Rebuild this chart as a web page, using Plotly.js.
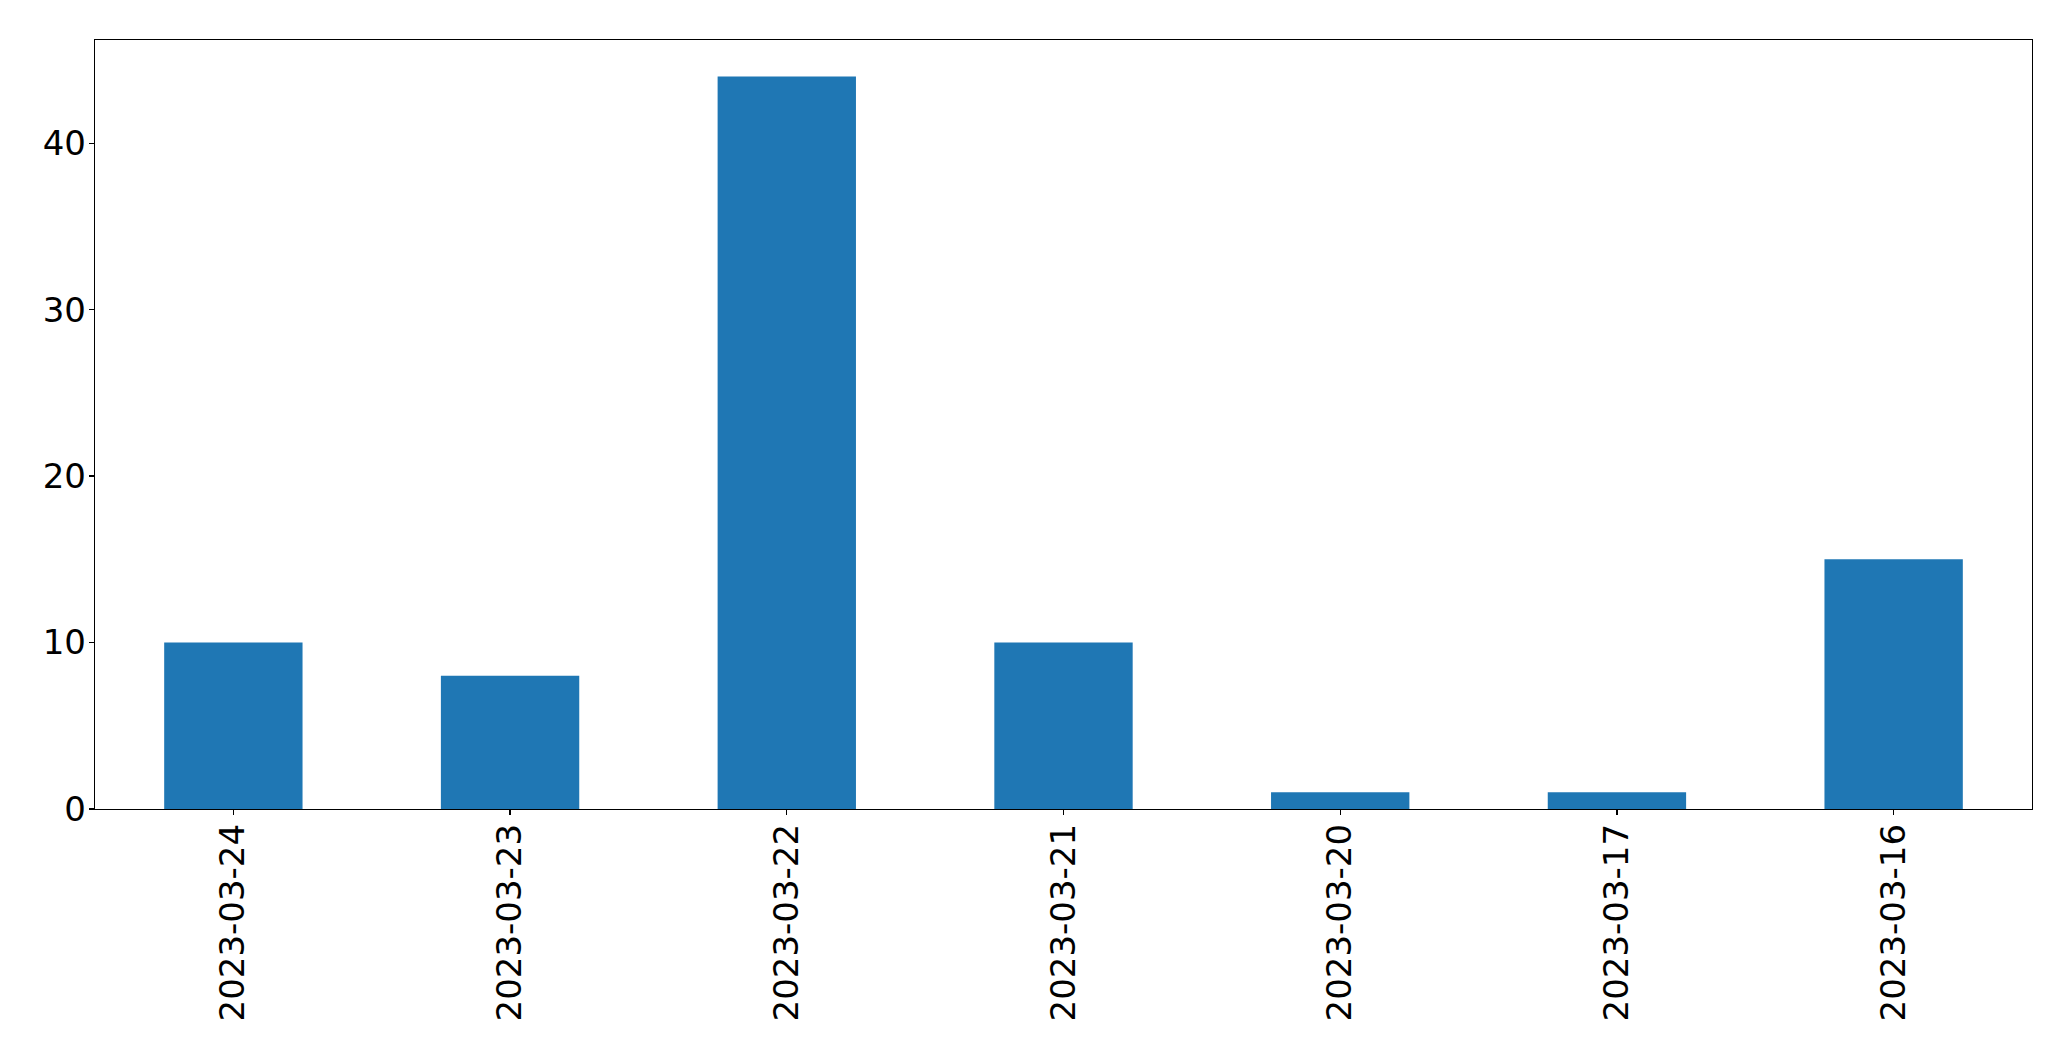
<!DOCTYPE html>
<html>
<head>
<meta charset="utf-8">
<script src="https://cdn.plot.ly/plotly-3.0.1.min.js"></script>
<style>html,body{margin:0;padding:0;background:#fff;}#chart{width:2071px;height:1061px;}</style>
</head>
<body>
<div id="chart"></div>
<script>
const dates = ["2023-03-24","2023-03-23","2023-03-22","2023-03-21","2023-03-20","2023-03-17","2023-03-16"];
const counts = [10, 8, 44, 10, 1, 1, 15];
const yTicks = [0, 10, 20, 30, 40];

const font = {family: "DejaVu Sans", size: 34, color: "#000"};
Plotly.newPlot("chart", [{
  type: "bar",
  x: dates,
  y: counts,
  width: 0.5,
  marker: {color: "#1f77b4", line: {width: 0}},
  hoverinfo: "x+y"
}], {
  width: 2071, height: 1061,
  margin: {l: 94.5, r: 39.3, t: 39.5, b: 252, pad: 0},
  paper_bgcolor: "#fff", plot_bgcolor: "#fff",
  showlegend: false,
  font: font,
  xaxis: {
    type: "category",
    range: [-0.5, dates.length - 0.5],
    tickangle: -90,
    ticks: "outside", ticklen: 5, tickwidth: 1.3, tickcolor: "#000",
    showline: true, linecolor: "#000", linewidth: 1.3, mirror: true,
    showgrid: false, zeroline: false,
    tickfont: font,
    ticklabelstandoff: -5
  },
  yaxis: {
    range: [0, 46.2],
    tickvals: yTicks,
    ticktext: yTicks.map(String),
    ticks: "outside", ticklen: 5, tickwidth: 1.3, tickcolor: "#000",
    showline: true, linecolor: "#000", linewidth: 1.3, mirror: true,
    showgrid: false, zeroline: false,
    tickfont: font,
    ticklabelstandoff: -4
  }
}, {displayModeBar: false, staticPlot: true});
</script>
</body>
</html>
